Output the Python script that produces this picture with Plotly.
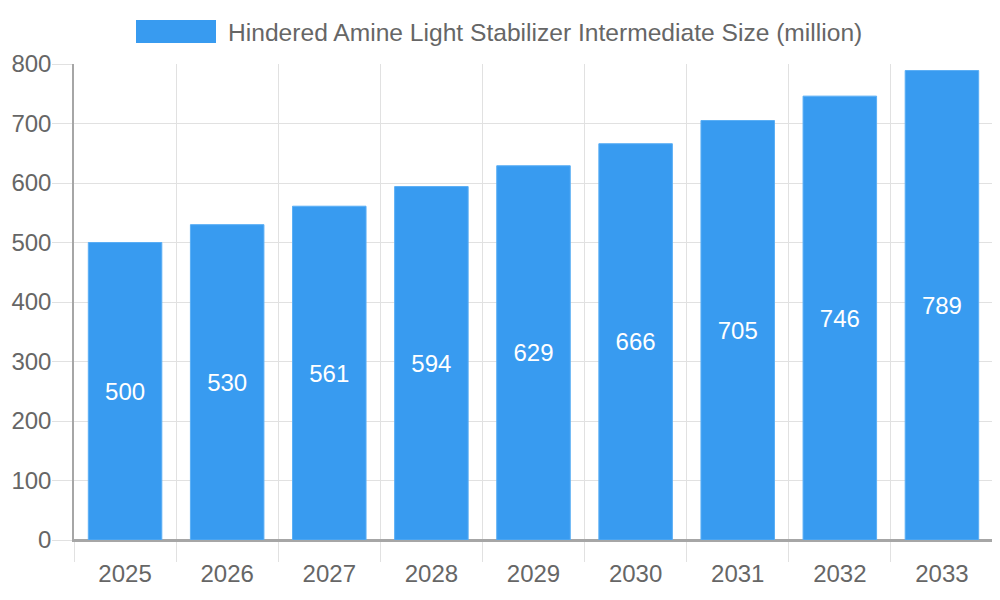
import plotly.graph_objects as go

years = ["2025", "2026", "2027", "2028", "2029", "2030", "2031", "2032", "2033"]
sizes = [500, 530, 561, 594, 629, 666, 705, 746, 789]
series_name = "Hindered Amine Light Stabilizer Intermediate Size (million)"

blue = "#389bf0"
grid = "#e1e1e1"
axis_col = "#a6a6a6"
txt = "#666666"
font_family = "Liberation Sans, Arial, sans-serif"

fig = go.Figure()
fig.add_trace(go.Bar(
    x=years, y=sizes, name=series_name,
    marker=dict(color=blue, line=dict(color="#5aaef5", width=1)),
    width=0.72,
    text=[str(v) for v in sizes],
    textposition="inside", insidetextanchor="middle",
    textfont=dict(color="white", size=24, family=font_family),
    showlegend=False,
))

# legend drawn as a box + label, Chart.js style
fig.add_shape(type="rect", xref="paper", yref="paper",
              x0=(136 - 74) / 919, x1=(216 - 74) / 919,
              y0=(540 - 43) / 476, y1=(540 - 20) / 476,
              fillcolor=blue, line=dict(width=0))
fig.add_annotation(text=series_name, xref="paper", yref="paper",
                   x=(226 - 74) / 919, y=(540 - 32) / 476,
                   xanchor="left", yanchor="middle", showarrow=False,
                   font=dict(size=24.6, color=txt, family=font_family))

fig.update_layout(
    width=1000, height=600,
    margin=dict(l=66, r=15, t=56, b=68),
    plot_bgcolor="white", paper_bgcolor="white",
    font=dict(family=font_family, color=txt, size=24),
    bargap=0.28,
    xaxis=dict(
        type="category", tickson="boundaries",
        showgrid=True, gridcolor=grid, gridwidth=1,
        ticks="outside", ticklen=20, tickcolor=grid,
        showline=True, linecolor=axis_col, linewidth=1.5,
        tickfont=dict(size=24, color=txt),
        ticklabelstandoff=11, automargin=False,
    ),
    yaxis=dict(
        range=[0, 800], dtick=100, tick0=0,
        showgrid=True, gridcolor=grid, gridwidth=1,
        ticks="outside", ticklen=20, tickcolor=grid,
        showline=True, linecolor=axis_col, linewidth=1.5,
        zeroline=True, zerolinecolor=axis_col, zerolinewidth=1.5,
        tickfont=dict(size=24, color=txt),
        ticklabelstandoff=-4, automargin=False,
    ),
)

fig.write_html("out.html")
